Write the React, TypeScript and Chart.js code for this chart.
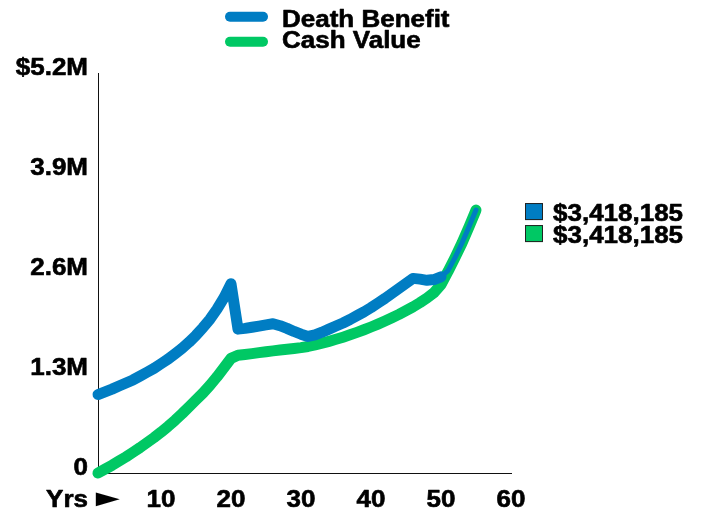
import { useEffect, useRef } from "react";
import { Chart, registerables } from "chart.js";

Chart.register(...registerables);

const years = [
  1, 2, 3, 4, 5, 6, 7, 8, 9, 10, 11, 12, 13, 14, 15, 16, 17, 18, 19, 20,
  21, 22, 23, 24, 25, 26, 27, 28, 29, 30, 31, 32, 33, 34, 35, 36, 37, 38, 39, 40,
  41, 42, 43, 44, 45, 46, 47, 48, 49, 50, 51, 52, 53, 54, 55,
];

const deathBenefit = [
  1020000, 1055000, 1090000, 1130000, 1170000, 1210000, 1260000, 1310000, 1360000, 1420000,
  1480000, 1550000, 1620000, 1700000, 1790000, 1890000, 2000000, 2130000, 2280000, 2460000,
  1870000, 1880000, 1895000, 1910000, 1925000, 1940000, 1915000, 1880000, 1840000, 1805000,
  1775000, 1795000, 1830000, 1870000, 1910000, 1950000, 1995000, 2045000, 2095000, 2150000,
  2210000, 2270000, 2335000, 2400000, 2465000, 2530000, 2520000, 2505000, 2515000, 2550000,
  2630000, 2800000, 2990000, 3200000, 3418185,
];

const cashValue = [
  0, 50000, 100000, 155000, 210000, 270000, 330000, 395000, 460000, 530000,
  605000, 685000, 770000, 860000, 950000, 1040000, 1140000, 1250000, 1370000, 1490000,
  1530000, 1540000, 1552000, 1565000, 1577000, 1588000, 1598000, 1608000, 1618000, 1630000,
  1645000, 1665000, 1688000, 1712000, 1738000, 1766000, 1796000, 1828000, 1862000, 1898000,
  1936000, 1976000, 2018000, 2062000, 2110000, 2160000, 2215000, 2275000, 2345000, 2450000,
  2620000, 2800000, 2990000, 3200000, 3418185,
];

const seriesNames = ["Death Benefit", "Cash Value"];
const seriesColors = ["#007DC3", "#00C864"];

const yTickValues = [0, 1300000, 2600000, 3900000, 5200000];
const yTickLabels = ["0", "1.3M", "2.6M", "3.9M", "$5.2M"];
const xTickValues = [1, 10, 20, 30, 40, 50, 60];
const xTickLabels = ["Yrs \u25BA", "10", "20", "30", "40", "50", "60"];

const FAMILY = '"Liberation Sans", Arial, Helvetica, sans-serif';
const FONT = "bold 23px " + FAMILY;
const SX = 1.13;

function drawText(
  ctx: CanvasRenderingContext2D,
  text: string,
  x: number,
  y: number,
  align: CanvasTextAlign
) {
  ctx.save();
  ctx.translate(x, y);
  ctx.scale(SX, 1);
  ctx.font = FONT;
  ctx.fillStyle = "#000";
  ctx.strokeStyle = "#000";
  ctx.lineWidth = 0.6;
  ctx.lineJoin = "round";
  ctx.textAlign = align;
  ctx.textBaseline = "alphabetic";
  ctx.fillText(text, 0, 0);
  ctx.strokeText(text, 0, 0);
  ctx.restore();
}

// draws a glyph so that its ink fills the given box
function drawGlyphInBox(
  ctx: CanvasRenderingContext2D,
  glyph: string,
  left: number,
  top: number,
  width: number,
  height: number
) {
  ctx.save();
  ctx.font = "bold 40px " + FAMILY;
  const m = ctx.measureText(glyph);
  const w = m.actualBoundingBoxLeft + m.actualBoundingBoxRight;
  const h = m.actualBoundingBoxAscent + m.actualBoundingBoxDescent;
  ctx.translate(left, top);
  ctx.scale(width / w, height / h);
  ctx.fillStyle = "#000";
  ctx.textAlign = "left";
  ctx.textBaseline = "alphabetic";
  ctx.fillText(glyph, m.actualBoundingBoxLeft, m.actualBoundingBoxAscent);
  ctx.restore();
}

const textPlugin = {
  id: "customText",
  afterDraw(chart: any) {
    const ctx: CanvasRenderingContext2D = chart.ctx;
    const xs = chart.scales.x;
    const ys = chart.scales.y;
    const area = chart.chartArea;

    // y tick labels
    yTickValues.forEach((v, i) => {
      const py = ys.getPixelForValue(v);
      drawText(ctx, yTickLabels[i], area.left - 10, py + 2, "right");
    });

    // x tick labels
    xTickValues.forEach((v, i) => {
      const px = xs.getPixelForValue(v);
      if (i === 0) {
        const parts = xTickLabels[i].split(" ");
        drawText(ctx, parts[0], area.left - 10, area.bottom + 34, "right");
        drawGlyphInBox(ctx, parts[1], px - 3, area.bottom + 19.5, 25, 14.5);
      } else {
        drawText(ctx, xTickLabels[i], px, area.bottom + 34, "center");
      }
    });

    // top legend
    seriesNames.forEach((name, i) => {
      const cy = 16.7 + i * 25;
      ctx.save();
      ctx.strokeStyle = seriesColors[i];
      ctx.lineWidth = 10;
      ctx.lineCap = "round";
      ctx.beginPath();
      ctx.moveTo(230, cy);
      ctx.lineTo(263, cy);
      ctx.stroke();
      ctx.restore();
      drawText(ctx, name, 282, 26.7 + i * 21.6, "left");
    });

    // end value labels
    const lastIdx = years.length - 1;
    const endValues = [deathBenefit[lastIdx], cashValue[lastIdx]];
    const yEnd = ys.getPixelForValue(endValues[0]);
    endValues.forEach((v, i) => {
      const top = yEnd - 7 + i * 22;
      ctx.save();
      ctx.fillStyle = seriesColors[i];
      ctx.fillRect(525, top, 18, 17);
      ctx.strokeStyle = "#222";
      ctx.lineWidth = 1;
      ctx.strokeRect(525.5, top + 0.5, 17, 16);
      ctx.restore();
      drawText(ctx, "$" + v.toLocaleString("en-US"), 553, yEnd + 11 + i * 21.5, "left");
    });
  },
};

export default function App() {
  const ref = useRef<HTMLCanvasElement | null>(null);

  useEffect(() => {
    if (!ref.current) return;
    const chart = new Chart(ref.current, {
      type: "line",
      data: {
        datasets: [
          {
            label: seriesNames[0],
            data: years.map((x, i) => ({ x, y: deathBenefit[i] })),
            borderColor: seriesColors[0],
            backgroundColor: seriesColors[0],
            borderWidth: 11,
            borderCapStyle: "round",
            borderJoinStyle: "round",
            pointRadius: 0,
            tension: 0,
            clip: false as any,
            segment: {
              borderWidth: (c: any) => (c.p0.parsed.x >= 50 ? 5 : 11),
            },
          },
          {
            label: seriesNames[1],
            data: years.map((x, i) => ({ x, y: cashValue[i] })),
            borderColor: seriesColors[1],
            backgroundColor: seriesColors[1],
            borderWidth: 11,
            borderCapStyle: "round",
            borderJoinStyle: "round",
            pointRadius: 0,
            tension: 0,
            clip: false as any,
          },
        ],
      },
      options: {
        animation: false,
        responsive: false,
        devicePixelRatio: 1,
        events: [],
        layout: {
          autoPadding: false,
          padding: { left: 98, right: 194, top: 73, bottom: 38 },
        },
        plugins: {
          legend: { display: false },
          tooltip: { enabled: false },
        },
        scales: {
          x: {
            type: "linear",
            min: 1,
            max: 60,
            grid: { display: false, drawTicks: false },
            ticks: { display: false },
            border: { display: true, color: "#111", width: 1 },
          },
          y: {
            type: "linear",
            min: 0,
            max: 5200000,
            grid: { display: false, drawTicks: false },
            ticks: { display: false },
            border: { display: true, color: "#111", width: 1 },
          },
        },
      },
      plugins: [textPlugin],
    });
    return () => chart.destroy();
  }, []);

  return (
    <canvas
      ref={ref}
      width={705}
      height={511}
      style={{ position: "fixed", left: 0, top: 0, width: 705, height: 511, display: "block" }}
    />
  );
}
